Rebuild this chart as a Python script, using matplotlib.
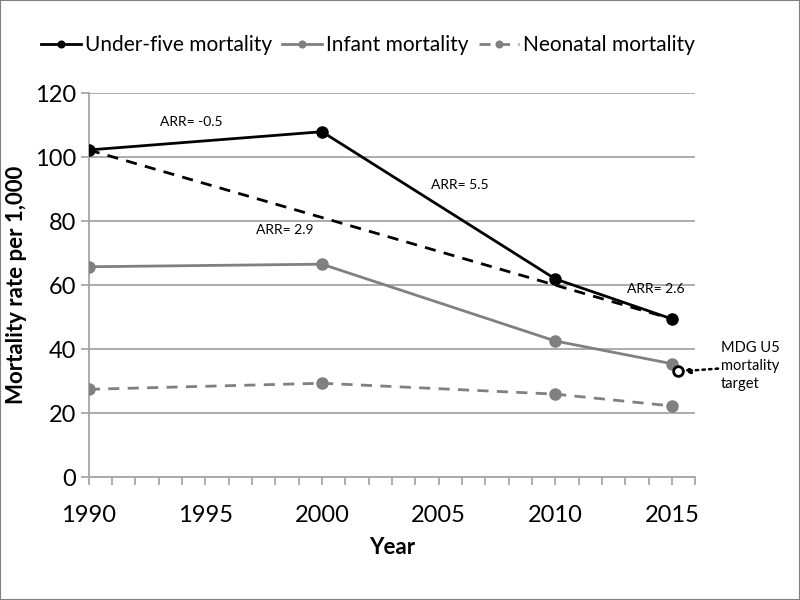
import matplotlib.pyplot as plt
from matplotlib.ticker import MultipleLocator

plt.rcParams['font.family'] = ['Lato', 'DejaVu Sans']

years = [1990, 2000, 2010, 2015]
under_five = [102.2, 107.9, 61.9, 49.4]
infant = [65.7, 66.5, 42.5, 35.4]
neonatal = [27.4, 29.3, 25.9, 22.2]

# straight 1990-2015 under-five trend
trend_years = [1990, 2015]
trend_values = [102.2, 49.4]

target_year = [2015.25]
target_value = [33.1]

arr_labels = ["ARR= -0.5", "ARR= 5.5", "ARR= 2.9", "ARR= 2.6"]
arr_x = [1994.4, 2005.9, 1998.4, 2014.3]
arr_y = [110.9, 91.3, 77.2, 58.8]

grid_col = '#a6a6a6'
gray = '#808080'

fig = plt.figure(figsize=(8, 6), dpi=100)
ax = fig.add_axes([0.111, 0.205, 0.758, 0.64])

ax.plot(years, under_five, color='black', lw=2, marker='o', ms=8, label="Under-five mortality", zorder=4)
ax.plot(years, infant, color=gray, lw=2, marker='o', ms=8, label="Infant mortality", zorder=3)
ax.plot(years, neonatal, color=gray, lw=2, ls=(0, (4, 3)), marker='o', ms=8, label="Neonatal mortality", zorder=3)
ax.plot(trend_years, trend_values, color='black', lw=2, ls=(0, (4, 3)), zorder=3)
ax.plot(target_year, target_value, ls='none', marker='o', ms=7, mfc='white', mec='black', mew=2, zorder=5)

for txt, x, y in zip(arr_labels, arr_x, arr_y):
    ax.text(x, y, txt, ha='center', va='center', fontsize=10)

ax.annotate("MDG U5\nmortality\ntarget", xy=(target_year[0] + 0.25, target_value[0]),
            xytext=(2017.1, target_value[0] + 1.5), ha='left', va='center', fontsize=10.5,
            linespacing=1.35, annotation_clip=False,
            arrowprops=dict(arrowstyle='-|>', color='black', lw=1.8, ls=':',
                            shrinkA=0, shrinkB=0, mutation_scale=9))

ax.set_xlim(1990, 2016)
ax.set_ylim(0, 120)
ax.xaxis.set_major_locator(MultipleLocator(5))
ax.xaxis.set_minor_locator(MultipleLocator(1))
ax.yaxis.set_major_locator(MultipleLocator(20))
ax.grid(axis='y', color=grid_col, lw=1.3)
ax.set_axisbelow(True)

for s in ['top', 'right']:
    ax.spines[s].set_visible(False)
for s in ['left', 'bottom']:
    ax.spines[s].set_color(grid_col)
    ax.spines[s].set_linewidth(1.3)

ax.tick_params(axis='both', which='both', color='#999999', width=1.1, labelsize=17)
ax.tick_params(axis='x', which='both', length=6)
ax.tick_params(axis='x', which='major', pad=14)
ax.tick_params(axis='y', length=6, pad=3)

ax.set_xlabel("Year", fontsize=16, fontweight='bold', labelpad=8)
ax.set_ylabel("Mortality rate per 1,000", fontsize=16, fontweight='bold', labelpad=6)

fig.legend(loc='center left', bbox_to_anchor=(0.028, 0.925), ncol=3, frameon=False,
           fontsize=15, handlelength=1.9, handletextpad=0.2, columnspacing=0.5, markerscale=0.6)

fig.patches.append(plt.Rectangle((0, 0), 1, 1, transform=fig.transFigure, fill=False,
                                 edgecolor='#808080', lw=1.5))

fig.savefig("out.png", dpi=100)
